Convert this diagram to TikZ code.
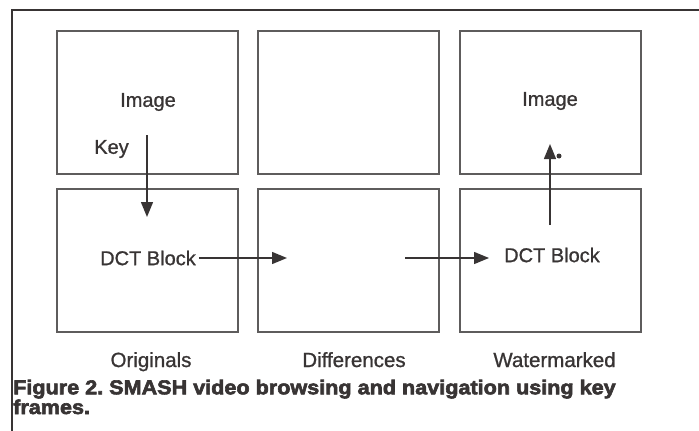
\documentclass[tikz,border=0pt]{standalone}
\usepackage{fontspec}
\setmainfont{Liberation Sans}[FakeBold=1]
\newfontfamily\capfont{Liberation Sans}[UprightFont=* Bold, FakeStretch=1.08, FakeBold=3]
\frenchspacing
\usetikzlibrary{arrows.meta}

\definecolor{scanline}{HTML}{5E5C5C}
\definecolor{scanink}{HTML}{383434}

\tikzset{
    outer frame/.style={
      draw=scanink,
      line width=1.8pt
    },
    frame box/.style={
      draw=scanline,
      line width=1.8pt,
      minimum width=181pt,
      minimum height=143pt,
      inner sep=0pt
    },
    box text/.style={
      text=scanink,
      font=\fontsize{20}{24}\selectfont,
      inner sep=3pt
    },
    col label/.style={
      text=scanink,
      font=\fontsize{20.5}{24}\selectfont,
      anchor=base
    },
    flow arrow/.style={
      draw=scanink,
      line width=1.4pt,
      -{Triangle[length=15pt,width=12pt]}
    },
    fig caption/.style={
      text=scanink,
      font=\capfont\fontsize{20}{18}\selectfont,
      anchor=base west,
      align=left,
      inner sep=0pt
    }
  }

\begin{document}
\begin{tikzpicture}[x=1pt,y=-1pt]
      \useasboundingbox (0,0) rectangle (699,431);

      % outer frame
      \draw[outer frame] (699,10) -- (12,10) -- (12,431);

      % frames
      \node[frame box] (origtop) at (147.5,102.5) {};
      \node[frame box] (difftop) at (348.5,102.5) {};
      \node[frame box] (wmtop)   at (550.5,102.5) {};
      \node[frame box] (origbot) at (147.5,260.5) {};
      \node[frame box] (diffbot) at (348.5,260.5) {};
      \node[frame box] (wmbot)   at (550.5,260.5) {};

      % texts in frames
      \node[box text] (img1) at (148,102) {Image};
      \node[box text] (key1) at (111.5,149) {Key};
      \node[box text] (dct1) at (148,258) {DCT Block};
      \node[box text] (img3) at (550,101) {Image};
      \node[box text] (dct3) at (552,255) {DCT Block};

      % arrows
      \coordinate (keytop) at (147,135);
      \coordinate (keytip) at (147,217);
      \coordinate (difftip) at (287,258);
      \coordinate (difftail) at (405,258);
      \coordinate (wmtail) at (550,225);
      \coordinate (wmtip) at (550,144);
      \draw[flow arrow] (keytop) -- (keytip);
      \draw[flow arrow] (dct1.east) -- (difftip);
      \draw[flow arrow, shorten >=12pt] (difftail) -- (dct3.west |- difftail);
      \draw[flow arrow] (wmtail) -- (wmtip);
      \fill[scanink] (559,156) circle (2.5);

      % column labels
      \node[col label] (laborig) at (151,367) {Originals};
      \node[col label] (labdiff) at (354,367) {Differences};
      \node[col label] (labwm)   at (554.5,367) {Watermarked};

      % caption
      \node[fig caption] (figcap) at (13,414) {Figure 2. SMASH video browsing and navigation using key\\frames.};
    \end{tikzpicture}
\end{document}
